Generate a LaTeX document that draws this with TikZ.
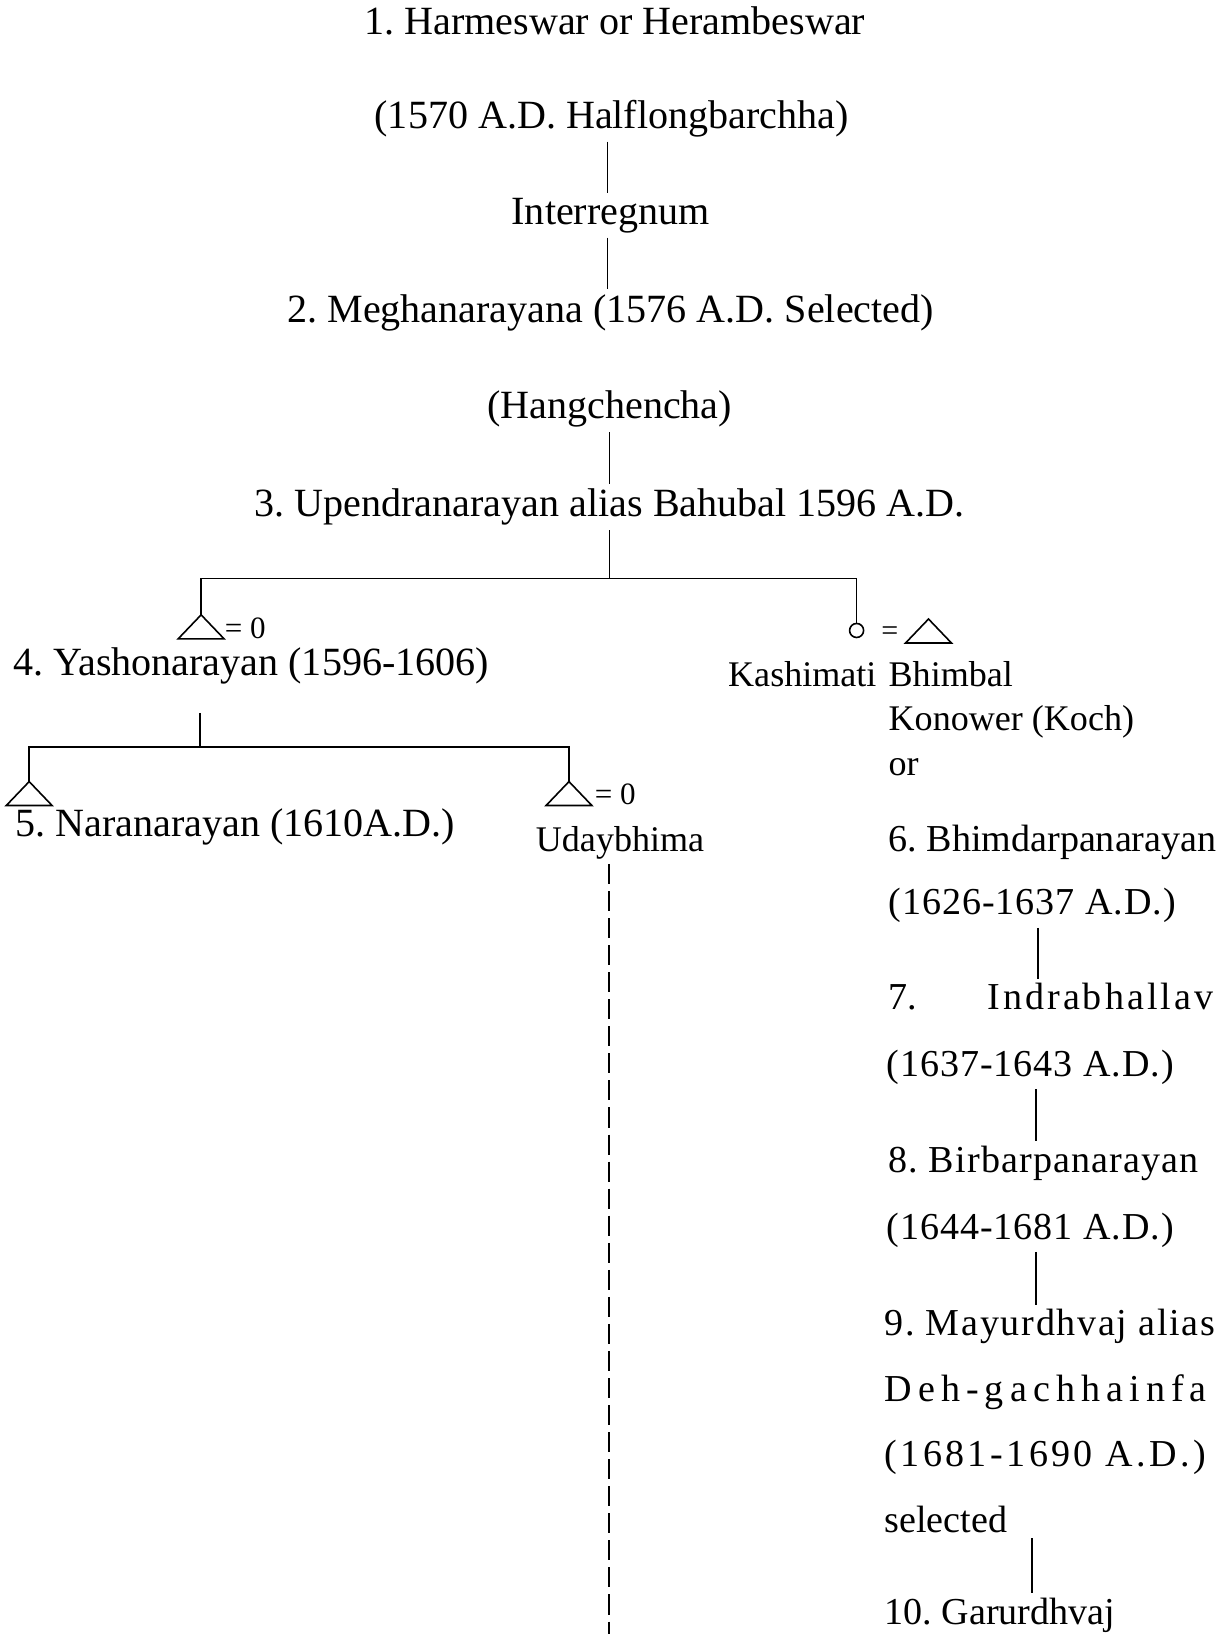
\documentclass[tikz,border=0pt]{standalone}
\usepackage{fontspec}
\setmainfont{Liberation Serif}
\frenchspacing

\tikzset{
  gen/.style={inner xsep=0pt,inner ysep=2pt,font=\fontsize{20}{24}\selectfont},
  kin/.style={inner xsep=0pt,inner ysep=2pt,font=\fontsize{18}{22}\selectfont},
  rgen/.style={inner xsep=0pt,inner ysep=2pt,font=\fontsize{19}{23}\selectfont},
  eqz/.style={inner sep=0pt,font=\fontsize{15.5}{17}\selectfont},
  male/.pic={\draw (0,0) -- (-22,23) -- (22,23) -- cycle;}
}

\begin{document}
\begin{tikzpicture}[x=0.52pt,y=-0.52pt,line width=0.8pt]
\useasboundingbox (0,0) rectangle (1175,1568);
\coordinate (spine) at (583,0);
\node[gen,anchor=base] (harm) at (590,33) {1. Harmeswar or Herambeswar};
\node[gen,anchor=base] (half) at (587,123) {(1570 A.D. Halflongbarchha)};
\node[gen,anchor=base] (inter) at (586,215) {Interregnum};
\node[gen,anchor=base] (megh) at (586,309) {2. Meghanarayana (1576 A.D. Selected)};
\node[gen,anchor=base] (hang) at (585,402) {(Hangchencha)};
\node[gen,anchor=base] (upen) at (585,496) {3. Upendranarayan alias Bahubal 1596 A.D.};
\draw (half.south -| spine) -- (inter.north -| spine);
\draw (inter.south -| spine) -- (megh.north -| spine);
\draw (hang.south -| upen) -- (upen.north);
\coordinate (fork3) at (585,555);
\coordinate (yash) at (193,590);
\node[draw,circle,inner sep=0pt,minimum size=7pt] (kashc) at (822,605) {};
\draw (upen.south) -- (fork3);
\draw (yash) |- (fork3) -| (kashc.north);
\pic at (yash) {male};
\node[eqz,anchor=base west] (yasheq) at (215,613) {= 0};
\node[gen,anchor=base west,inner ysep=0pt] (yashn) at (12,648) {4. Yashonarayan (1596-1606)};
\coordinate (fork4) at (192,717);
\coordinate (nara) at (28,750);
\coordinate (uday) at (546,750);
\draw[shorten <=14pt] (yashn.south -| fork4) -- (fork4);
\draw (nara) |- (fork4) -| (uday);
\pic at (nara) {male};
\pic at (uday) {male};
\node[eqz,anchor=base west] (udayeq) at (570,772) {= 0};
\node[gen,anchor=base west] (naran) at (14,803) {5. Naranarayan (1610A.D.)};
\node[kin,anchor=base] (udayn) at (595,817) {Udaybhima};
\coordinate (udayend) at (584,1568);
\draw[line width=1pt,dash pattern=on 10pt off 3.5pt] (udayend |- udayn.south) -- (udayend);
\node[inner sep=0pt,font=\fontsize{15}{17}\selectfont] (kasheq) at (854,608) {=};
\coordinate (bhim) at (891,594);
\pic at (bhim) {male};
\node[kin,anchor=base west] (kashn) at (698,659) {Kashimati};
\node[kin,anchor=base west] (bhimn) at (852,659) {Bhimbal};
\node[kin,anchor=base west] (kono) at (852,701) {Konower (Koch)};
\node[kin,anchor=base west] (konor) at (852,744) {or};
\node[rgen,anchor=base west] (n6) at (852,817) {6. Bhimdarpanarayan};
\node[rgen,anchor=base west] (d6) at (852,878) {\addfontfeature{LetterSpace=2.5}(1626-1637 A.D.)};
\node[rgen,anchor=base west] (n7) at (852,969) {\makebox[162pt][l]{7.\hfill{\addfontfeature{LetterSpace=8}Indrabhallav}}};
\node[rgen,anchor=base west] (d7) at (850,1033) {\addfontfeature{LetterSpace=2.5}(1637-1643 A.D.)};
\node[rgen,anchor=base west] (n8) at (852,1125) {\addfontfeature{LetterSpace=3}8. Birbarpanarayan};
\node[rgen,anchor=base west] (d8) at (850,1189) {\addfontfeature{LetterSpace=2.5}(1644-1681 A.D.)};
\node[rgen,anchor=base west] (n9) at (848,1282) {\addfontfeature{LetterSpace=4.5}9. Mayurdhvaj alias};
\node[rgen,anchor=base west] (n9b) at (848,1345) {\addfontfeature{LetterSpace=16}Deh-gachhainfa};
\node[rgen,anchor=base west] (d9) at (848,1407) {\addfontfeature{LetterSpace=9}(1681-1690 A.D.)};
\node[rgen,anchor=base west] (sel) at (848,1471) {selected};
\node[rgen,anchor=base west] (n10) at (848,1559) {10. Garurdhvaj};
\draw ([xshift=3pt]d6.south) -- ([xshift=3pt]d6.south |- n7.north);
\draw ([xshift=3pt]d7.south) -- ([xshift=3pt]d7.south |- n8.north);
\draw ([xshift=3pt]d8.south) -- ([xshift=3pt]d8.south |- n9.north);
\draw (sel.south -| d6.south) -- (d6.south |- n10.north);
\end{tikzpicture}
\end{document}
